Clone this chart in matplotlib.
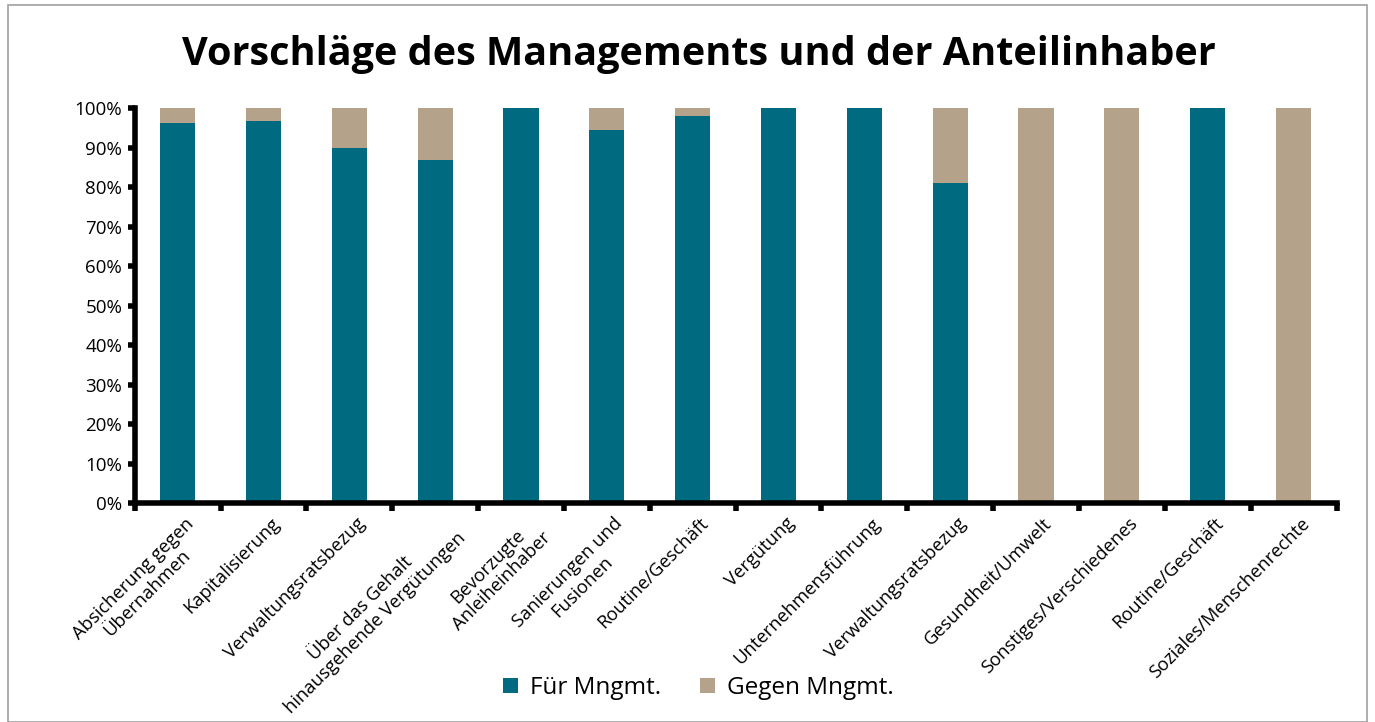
import matplotlib.pyplot as plt
from matplotlib.patches import Rectangle
import numpy as np

categories = [
    "Absicherung gegen\nÜbernahmen",
    "Kapitalisierung",
    "Verwaltungsratsbezug",
    "Über das Gehalt\nhinausgehende Vergütungen",
    "Bevorzugte\nAnleiheinhaber",
    "Sanierungen und\nFusionen",
    "Routine/Geschäft",
    "Vergütung",
    "Unternehmensführung",
    "Verwaltungsratsbezug",
    "Gesundheit/Umwelt",
    "Sonstiges/Verschiedenes",
    "Routine/Geschäft",
    "Soziales/Menschenrechte",
]
fuer = [96.4, 96.8, 90.0, 86.8, 100, 94.5, 98.0, 100, 100, 81.2, 0, 0, 100, 0]
gegen = [100 - v for v in fuer]

teal = "#006a80"
tan = "#b4a38a"

plt.rcParams['font.family'] = ['Open Sans', 'DejaVu Sans']

fig = plt.figure(figsize=(13.75, 7.22), dpi=100)
ax = fig.add_axes([0.098, 0.303, 0.874, 0.547])

x = np.arange(len(categories))
ax.bar(x, fuer, width=0.41, color=teal, label="Für Mngmt.")
ax.bar(x, gegen, width=0.41, bottom=fuer, color=tan, label="Gegen Mngmt.")

ax.set_xlim(-0.5, len(categories) - 0.5)
ax.set_ylim(0, 100)
ax.set_yticks(range(0, 101, 10))
ax.set_yticklabels([f"{v}%" for v in range(0, 101, 10)], fontsize=13.5)

# category labels at bar centres, tick marks at boundaries
ax.set_xticks(x + 0.08)
ax.set_xticklabels(categories, rotation=45, ha='right', rotation_mode='anchor',
                   fontsize=13.2, multialignment='center', linespacing=1.15)
ax.tick_params(axis='x', length=0, pad=8)
ax.set_xticks(np.arange(-0.5, len(categories), 1), minor=True)
ax.tick_params(axis='x', which='minor', length=6, width=4, direction='out')
ax.tick_params(axis='y', length=5, width=4, direction='out', pad=4)

for s in ['top', 'right']:
    ax.spines[s].set_visible(False)
for s in ['left', 'bottom']:
    ax.spines[s].set_linewidth(4)

fig.text(0.508, 0.924, "Vorschläge des Managements und der Anteilinhaber",
         fontsize=28.5, fontweight='bold', ha='center', va='center')

fig.legend(loc='center', bbox_to_anchor=(0.508, 0.047), ncol=2, frameon=False,
           fontsize=17.5, handlelength=0.6, handleheight=0.6, columnspacing=1.6,
           handletextpad=0.5)

fig.patches.append(Rectangle((0.006, 0.0), 0.988, 0.993, transform=fig.transFigure,
                             fill=False, edgecolor='#a0a0a0', linewidth=1.2))

fig.savefig("out.png", dpi=100)
